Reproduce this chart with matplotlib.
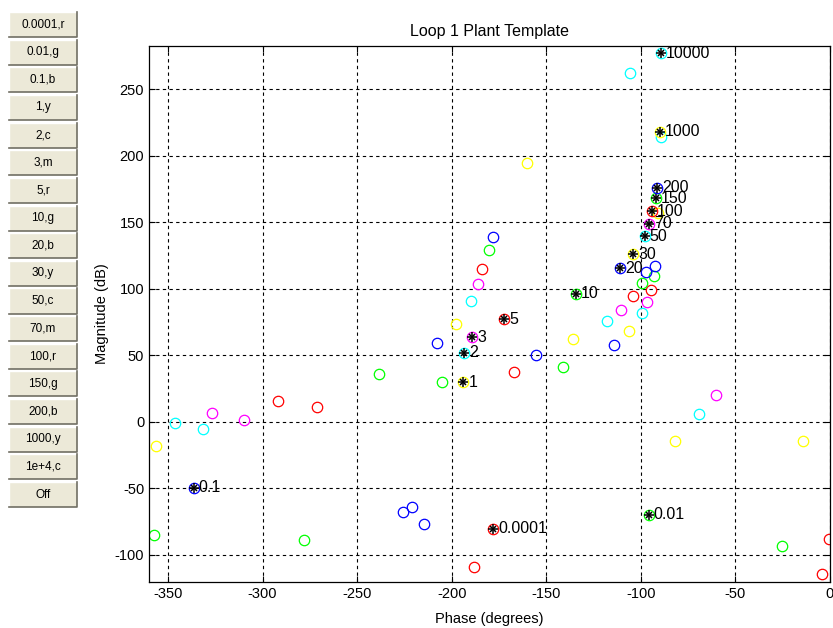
import numpy as np
import matplotlib.pyplot as plt
from matplotlib.patches import Rectangle
from matplotlib.lines import Line2D

plt.rcParams['font.family'] = ['Liberation Sans', 'DejaVu Sans']
plt.rcParams['axes.unicode_minus'] = False

# nominal plant points (stars), one per frequency
freq_labels = ['0.0001', '0.01', '0.1', '1', '2', '3', '5', '10', '20', '30',
               '50', '70', '100', '150', '200', '1000', '10000']
freq_colors = ['r', 'g', 'b', 'y', 'c', 'm', 'r', 'g', 'b', 'y',
               'c', 'm', 'r', 'g', 'b', 'y', 'c']
nom_phase = [-178.1, -95.9, -336.3, -193.8, -193.3, -189.1, -172.1, -134.2, -110.8, -104.0,
             -98.0, -95.5, -94.2, -92.2, -91.5, -90.0, -89.6]
nom_mag = [-80.4, -69.9, -49.6, 29.8, 51.9, 63.7, 77.2, 96.2, 115.5, 126.0,
           139.4, 148.9, 158.4, 168.0, 176.0, 218.0, 277.2]

# template points (open circles) by colour
red_ph = [-183.8, -167.0, -104.2, -94.7, -291.7, -271.0, -188.4, -0.5, -4.1]
red_mg = [114.6, 37.1, 94.3, 98.8, 15.8, 11.3, -109.5, -88.0, -114.5]
grn_ph = [-180.4, -204.9, -238.2, -141.1, -99.5, -93.0, -357.5, -278.3, -25.2]
grn_mg = [129.0, 29.8, 35.6, 41.1, 104.2, 109.5, -85.4, -89.2, -93.2]
blu_ph = [-178.3, -207.8, -155.6, -114.4, -97.2, -92.3, -225.9, -221.2, -214.4]
blu_mg = [138.7, 59.2, 50.2, 57.9, 112.5, 117.5, -67.9, -64.1, -76.7]
yel_ph = [-197.9, -135.8, -106.3, -160.3, -91.0, -82.2, -14.4, -356.2]
yel_mg = [73.7, 62.0, 68.0, 194.3, 157.0, -14.3, -14.3, -18.0]
cyn_ph = [-189.8, -117.8, -99.5, -69.1, -105.5, -89.6, -346.5, -331.7]
cyn_mg = [90.8, 75.7, 81.5, 5.5, 262.4, 213.8, -1.0, -5.5]
mag_ph = [-186.2, -110.4, -96.5, -60.3, -326.8, -310.0]
mag_mg = [103.3, 84.0, 90.0, 20.0, 6.5, 1.5]

buttons = ['0.0001,r', '0.01,g', '0.1,b', '1,y', '2,c', '3,m', '5,r', '10,g', '20,b',
           '30,y', '50,c', '70,m', '100,r', '150,g', '200,b', '1000,y', '1e+4,c', 'Off']

cmap = {'r': '#ff0000', 'g': '#00ff00', 'b': '#0000ff',
        'y': '#ffff00', 'c': '#00ffff', 'm': '#ff00ff'}

W, H = 833, 628
fig = plt.figure(figsize=(W / 100, H / 100), dpi=100)
ax = fig.add_axes([149 / W, 1 - 582 / H, (830 - 149) / W, (582 - 46) / H])

circ = dict(marker='o', ls='none', mfc='none', ms=7.5, mew=0.9)
for ph, mg, c in [(red_ph, red_mg, 'r'), (grn_ph, grn_mg, 'g'), (blu_ph, blu_mg, 'b'),
                  (yel_ph, yel_mg, 'y'), (cyn_ph, cyn_mg, 'c'), (mag_ph, mag_mg, 'm')]:
    ax.plot(ph, mg, color=cmap[c], **circ)

for i in range(len(freq_labels)):
    ax.plot(nom_phase[i], nom_mag[i], color=cmap[freq_colors[i]], **circ)
    ax.plot(nom_phase[i], nom_mag[i], '+', color='k', ms=7.5, mew=1.1)
    ax.plot(nom_phase[i], nom_mag[i], 'x', color='k', ms=5, mew=1.1)
    ax.annotate(freq_labels[i], (nom_phase[i], nom_mag[i]), xytext=(3.5, 0),
                textcoords='offset points', va='center', ha='left', fontsize=11.5)

ax.set_xlim(-360, 0)
ax.set_ylim(-120.5, 282.6)
ax.set_xticks(np.arange(-350, 1, 50))
ax.set_yticks(np.arange(-100, 251, 50))
ax.grid(True, color='k', linestyle=(0, (3, 3)), linewidth=0.8)
ax.tick_params(direction='in', top=True, right=True, labelsize=10.5, length=4)
ax.set_xlabel('Phase (degrees)', fontsize=10.5, labelpad=8)
ax.set_ylabel('Magnitude (dB)', fontsize=10.5, labelpad=4)
ax.set_title('Loop 1 Plant Template', fontsize=11.5, pad=7)
for s in ax.spines.values():
    s.set_linewidth(0.9)

# push buttons down the left side
bx0, bx1 = 9, 77
for i, lab in enumerate(buttons):
    top = 12 + i * 27.65
    y0 = 1 - (top + 25) / H
    h = 25 / H
    fig.add_artist(Rectangle((bx0 / W, y0), (bx1 - bx0) / W, h, transform=fig.transFigure,
                             facecolor='#ece9d8', edgecolor='none'))
    xa, xb = bx0 / W, bx1 / W
    ya, yb = y0, y0 + h
    fig.add_artist(Line2D([xa, xa, xb], [ya, yb, yb], transform=fig.transFigure,
                          color='white', lw=1))
    fig.add_artist(Line2D([xa, xb, xb], [ya, ya, yb], transform=fig.transFigure,
                          color='#716f64', lw=1.2))
    fig.text((bx0 + bx1) / 2 / W, y0 + h / 2, lab, ha='center', va='center', fontsize=8.5)

fig.savefig('out.png', dpi=100)
